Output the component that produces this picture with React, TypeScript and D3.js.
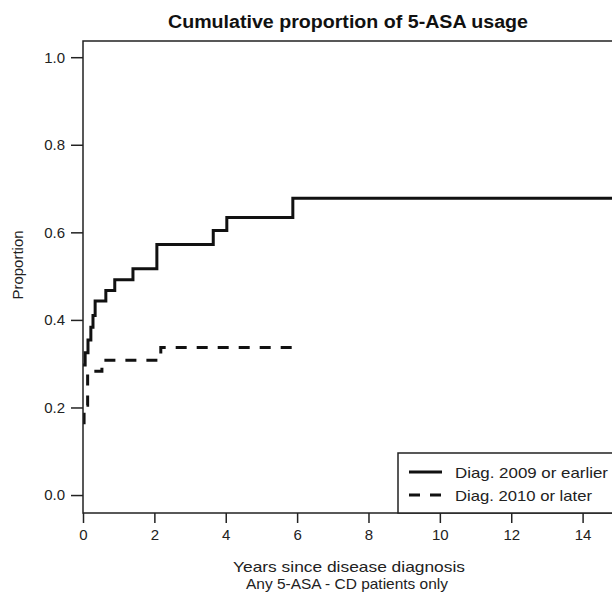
import * as React from "react";
import * as d3 from "d3";

// step data (time in years, cumulative proportion)
const earlyTimes = [0, 0.06, 0.14, 0.22, 0.28, 0.34, 0.64, 0.89, 1.40, 2.07, 3.65, 4.03, 5.88, 15];
const earlyValues = [0.297, 0.325, 0.354, 0.383, 0.41, 0.443, 0.467, 0.492, 0.517, 0.572, 0.604, 0.634, 0.678, 0.678];

const lateTimes = [0, 0.03, 0.13, 0.53, 2.18, 6.0];
const lateValues = [0.165, 0.205, 0.283, 0.308, 0.337, 0.337];

const xTicks = [0, 2, 4, 6, 8, 10, 12, 14];
const yTicks = [0, 0.2, 0.4, 0.6, 0.8, 1.0];
const yTickLabels = ["0.0", "0.2", "0.4", "0.6", "0.8", "1.0"];

const seriesNames = ["Diag. 2009 or earlier", "Diag. 2010 or later"];

const W = 612;
const H = 596;
const margin = {top: 41, right: -2, bottom: 83, left: 83};
const FONT = "'Liberation Sans', Arial, sans-serif";

export default function App() {
  const ref = React.useRef<SVGSVGElement>(null);

  React.useEffect(() => {
    const svg = d3.select(ref.current);
    svg.selectAll("*").remove();

    const plotW = W - margin.left - margin.right;
    const plotH = H - margin.top - margin.bottom;

    const x = d3.scaleLinear().domain([0, 14.88]).range([margin.left, margin.left + plotW]);
    const y = d3.scaleLinear().domain([-0.041, 1.037]).range([margin.top + plotH, margin.top]);

    const line = d3.line<[number, number]>()
      .x(d => x(d[0]))
      .y(d => y(d[1]))
      .curve(d3.curveStepAfter);

    svg.append("defs").append("clipPath").attr("id", "plotclip")
      .append("rect")
      .attr("x", margin.left).attr("y", margin.top)
      .attr("width", plotW).attr("height", plotH);

    const lines = svg.append("g").attr("clip-path", "url(#plotclip)");
    lines.append("path")
      .attr("d", line(earlyTimes.map((t, i) => [t, earlyValues[i]])))
      .attr("fill", "none").attr("stroke", "#111").attr("stroke-width", 3);
    lines.append("path")
      .attr("d", line(lateTimes.map((t, i) => [t, lateValues[i]])))
      .attr("fill", "none").attr("stroke", "#111").attr("stroke-width", 3)
      .attr("stroke-dasharray", "11,10");

    // box
    svg.append("rect")
      .attr("x", margin.left).attr("y", margin.top)
      .attr("width", plotW).attr("height", plotH)
      .attr("fill", "none").attr("stroke", "#222").attr("stroke-width", 1.5);

    // axes
    const xAxis = d3.axisBottom(x).tickValues(xTicks).tickSize(10).tickPadding(6)
      .tickFormat(d => String(d));
    const gx = svg.append("g")
      .attr("transform", `translate(0,${margin.top + plotH})`)
      .call(xAxis);
    gx.select(".domain").remove();

    const yAxis = d3.axisLeft(y).tickValues(yTicks).tickSize(12).tickPadding(6)
      .tickFormat((d, i) => yTickLabels[i]);
    const gy = svg.append("g")
      .attr("transform", `translate(${margin.left},0)`)
      .call(yAxis);
    gy.select(".domain").remove();

    svg.selectAll(".tick line").attr("stroke", "#222").attr("stroke-width", 1.5);
    svg.selectAll(".tick text")
      .attr("fill", "#222")
      .style("font-family", FONT)
      .style("font-size", "15px");

    // legend
    const legendWidths = [153, 137];
    const lg = svg.append("g");
    lg.append("rect")
      .attr("x", 398).attr("y", 453)
      .attr("width", 240).attr("height", margin.top + plotH - 453)
      .attr("fill", "#fff").attr("stroke", "#222").attr("stroke-width", 1.5);
    seriesNames.forEach((name, i) => {
      const ly = 472 + i * 23;
      lg.append("line")
        .attr("x1", 409).attr("x2", 442).attr("y1", ly).attr("y2", ly)
        .attr("stroke", "#111").attr("stroke-width", 3)
        .attr("stroke-dasharray", i === 1 ? "11,10" : null);
      lg.append("text")
        .attr("x", 455).attr("y", ly + 6)
        .attr("fill", "#222")
        .attr("textLength", legendWidths[i]).attr("lengthAdjust", "spacingAndGlyphs")
        .style("font-family", FONT).style("font-size", "15px")
        .text(name);
    });

    // titles
    svg.append("text")
      .attr("x", 348).attr("y", 28)
      .attr("text-anchor", "middle")
      .attr("fill", "#111")
      .attr("textLength", 360).attr("lengthAdjust", "spacingAndGlyphs")
      .style("font-family", FONT).style("font-size", "18px").style("font-weight", "bold")
      .text("Cumulative proportion of 5-ASA usage");

    svg.append("text")
      .attr("transform", `translate(23,265) rotate(-90)`)
      .attr("text-anchor", "middle")
      .attr("fill", "#222")
      .style("font-family", FONT).style("font-size", "15px")
      .text("Proportion");

    const xl = svg.append("g")
      .attr("fill", "#222")
      .style("font-family", FONT).style("font-size", "14.5px");
    xl.append("text").attr("x", 349).attr("y", 572)
      .attr("text-anchor", "middle")
      .attr("textLength", 232).attr("lengthAdjust", "spacingAndGlyphs")
      .text("Years since disease diagnosis");
    xl.append("text").attr("x", 347).attr("y", 589)
      .attr("text-anchor", "middle")
      .attr("textLength", 202).attr("lengthAdjust", "spacingAndGlyphs")
      .text("Any 5-ASA - CD patients only");
  }, []);

  return (
    <svg ref={ref} width={W} height={H}
      style={{position: "absolute", left: 0, top: 0, background: "#fff"}} />
  );
}
